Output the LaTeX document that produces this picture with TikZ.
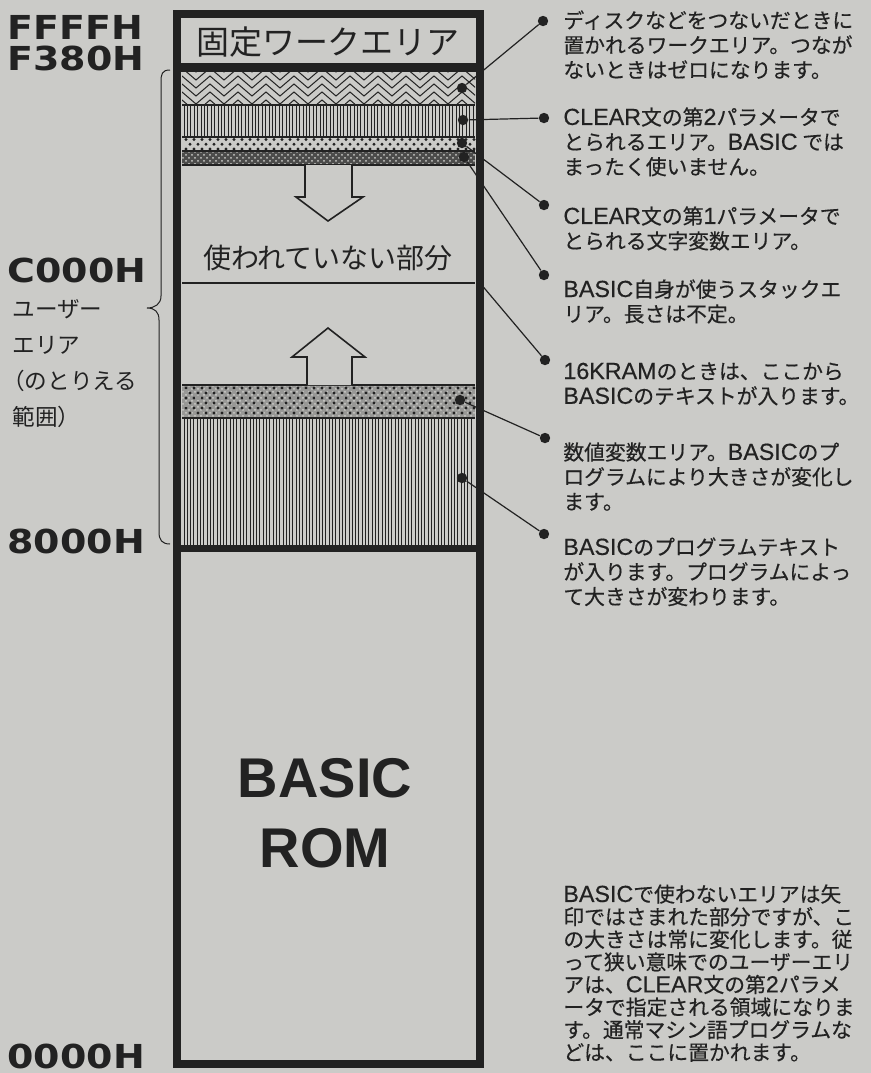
\documentclass[tikz,border=0pt]{standalone}
\usepackage{fontspec}
\setmainfont{Noto Sans CJK JP}
\newfontfamily\notefont[FakeBold=0.4]{Noto Sans CJK JP}
\newfontfamily\hexfont[FakeStretch=1.15]{DejaVu Sans Bold}
\newfontfamily\romfont{Liberation Sans Bold}
\newfontfamily\latfont[Scale=1.12,FakeBold=0.4]{Liberation Sans}
\newcommand\lat[1]{{\latfont #1}}
\usetikzlibrary{patterns}

\definecolor{paper}{RGB}{203,203,200}
\definecolor{ink}{RGB}{34,34,34}

\tikzset{
  hatch/.style={ink, line width=0.45pt},
  sep/.style={ink, line width=0.7pt},
  bar/.style={ink, line width=4.2pt},
  blob/.style={circle, fill=ink, inner sep=0pt, minimum size=5.2pt},
  note/.style={anchor=north west, align=left, inner sep=0pt, text=ink, font=\notefont\fontsize{10.4pt}{12.4pt}\selectfont},
  hexlabel/.style={anchor=west, inner sep=0pt, text=ink, font=\hexfont\fontsize{16.5pt}{18pt}\selectfont},
  hollow/.style={draw=ink, fill=paper, line width=0.8pt, line join=miter},
  leader/.style={ink, line width=0.6pt},
}

\begin{document}
\begin{tikzpicture}[x=0.5pt,y=-0.5pt]
\useasboundingbox (0,0) rectangle (871,1073);
\fill[paper] (0,0) rectangle (871,1073);

% bands of the user area
\begin{scope}
\clip (182,72) rectangle (475,105);
\foreach \r in {72,80,...,120}
  \draw[hatch, line width=0.5pt] (168,\r) \foreach \i in {1,...,11} { -- ++(14,-12) -- ++(14,12) };
\end{scope}
\foreach \x in {184,187.4,...,474} \draw[hatch] (\x,105) -- (\x,137);
\foreach \x in {184,187.3,...,474} \draw[hatch] (\x,418) -- (\x,545);
\foreach \x in {186,194,...,474} {\fill[ink] (\x,139.5) circle (0.85pt); \fill[ink] (\x,149) circle (0.85pt);}
\foreach \x in {190,198,...,474} \fill[ink] (\x,144.2) circle (0.85pt);
\fill[ink!75!paper] (182,151) rectangle (475,165);
\fill[pattern=crosshatch dots, pattern color=paper] (182,151) rectangle (475,165);
\fill[ink!30!paper] (182,385) rectangle (475,418);
\fill[pattern=crosshatch dots, pattern color=paper] (182,385) rectangle (475,418);
\foreach \y in {388,398,408} \foreach \x in {186,194,...,474} \fill[ink] (\x,\y) circle (0.85pt);
\foreach \y in {393,403,413} \foreach \x in {190,198,...,474} \fill[ink] (\x,\y) circle (0.85pt);
\foreach \y in {105,137,151,165,385,418} \draw[sep] (182,\y) -- (475,\y);
\draw[sep, line width=0.6pt] (182,283) -- (475,283);

% arrows
\draw[hollow] (305,165) -- (305,197) -- (296,197) -- (328,221) -- (363,197) -- (352,197) -- (352,165);
\draw[hollow] (307,385) -- (307,357) -- (292,357) -- (328,328) -- (365,357) -- (352,357) -- (352,385);

\node[text=ink, inner sep=0pt, font=\fontsize{16.5pt}{18pt}\selectfont] (fixed) at (328,42) {固定ワークエリア};
\node[text=ink, inner sep=0pt, font=\fontsize{14pt}{16pt}\selectfont] (unused) at (328,258) {使われていない部分};
\node[text=ink, inner sep=0pt, align=center, font=\romfont\fontsize{28pt}{35pt}\selectfont] (rom) at (325,813) {BASIC\\ROM};

% column
\draw[bar] (177,14) rectangle (480,1064);
\draw[bar] (177,67.5) -- (480,67.5);
\draw[bar, line width=3.8pt] (177,548.5) -- (480,548.5);

% addresses
\node[hexlabel] (ffff) at (7,27) {FFFFH};
\node[hexlabel] (f380) at (7,58) {F380H};
\node[hexlabel] (c000) at (7,270) {C000H};
\node[hexlabel] (a8000) at (7,541) {8000H};
\node[hexlabel] (a0000) at (7,1056) {0000H};
\node[anchor=north west, align=left, inner sep=0pt, text=ink, font=\fontsize{11.3pt}{18pt}\selectfont] (user) at (12,299)
  {ユーザー\\エリア\\\hspace*{-0.45em}（のとりえる\\範囲）};
\draw[ink, line width=0.5pt] (170,70) .. controls (162,70) and (161,74) .. (161,82) -- (161,296)
  .. controls (161,304) and (155,308) .. (147,308) .. controls (155,308) and (159,312) .. (159,320)
  -- (159,532) .. controls (159,540) and (162,544) .. (170,544);

% notes
\node[note] (t1) at (563,10) {ディスクなどをつないだときに\\置かれるワークエリア。つなが\\ないときはゼロになります。};
\node[note] (t2) at (563,107) {\lat{CLEAR}文の第\lat{2}パラメータで\\とられるエリア。\lat{BASIC} では\\まったく使いません。};
\node[note] (t3) at (563,206) {\lat{CLEAR}文の第\lat{1}パラメータで\\とられる文字変数エリア。};
\node[note] (t4) at (563,279) {\lat{BASIC}自身が使うスタックエ\\リア。長さは不定。};
\node[note] (t5) at (563,362) {\lat{16KRAM}のときは、ここから\\\lat{BASIC}のテキストが入ります。};
\node[note] (t6) at (563,442) {数値変数エリア。\lat{BASIC}のプ\\ログラムにより大きさが変化し\\ます。};
\node[note] (t7) at (563,537) {\lat{BASIC}のプログラムテキスト\\が入ります。プログラムによっ\\て大きさが変わります。};
\node[note, font=\notefont\fontsize{10.4pt}{11.3pt}\selectfont] (t8) at (563,884) {\lat{BASIC}で使わないエリアは矢\\印ではさまれた部分ですが、こ\\の大きさは常に変化します。従\\って狭い意味でのユーザーエリ\\アは、\lat{CLEAR}文の第\lat{2}パラメ\\ータで指定される領域になりま\\す。通常マシン語プログラムな\\どは、ここに置かれます。};

% leaders
\node[blob] (dzig) at (462,88) {};
\node[blob] (dvl) at (463,120) {};
\node[blob] (ddot) at (462,143) {};
\node[blob] (dchk) at (464,157) {};
\coordinate (dsep) at (480,283);
\node[blob] (dlow) at (460,400) {};
\node[blob] (dtxt) at (462,478) {};
\node[blob] (b1) at (543,21) {};
\node[blob] (b2) at (544,118) {};
\node[blob] (b3) at (544,205) {};
\node[blob] (b4) at (544,275) {};
\node[blob] (b5) at (545,360) {};
\node[blob] (b6) at (545,438) {};
\node[blob] (b7) at (544,534) {};
\draw[leader] (dzig) -- (b1);
\draw[leader] (dvl) -- (b2);
\draw[leader] (ddot) -- (b3);
\draw[leader] (dchk) -- (b4);
\draw[leader] (dsep) -- (b5);
\draw[leader] (dlow) -- (b6);
\draw[leader] (dtxt) -- (b7);
\end{tikzpicture}
\end{document}
